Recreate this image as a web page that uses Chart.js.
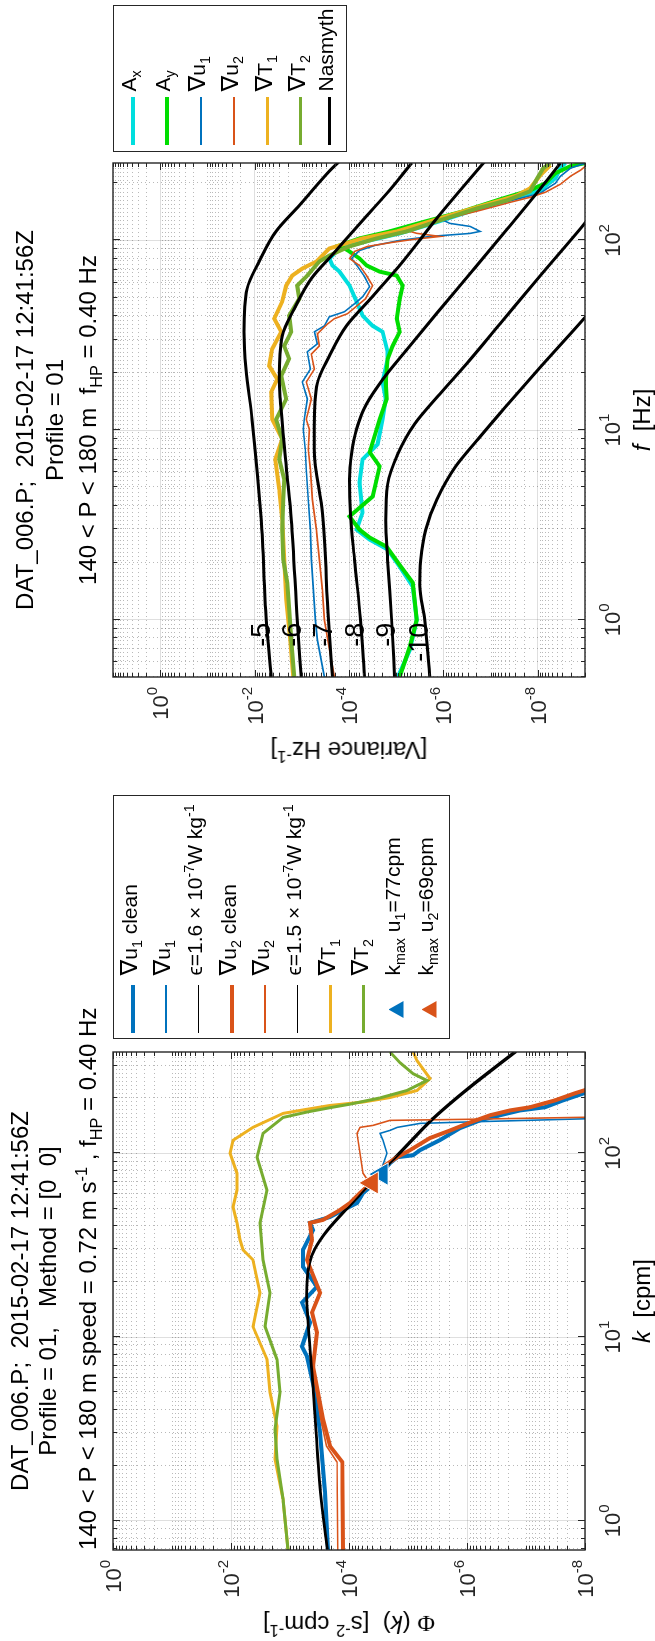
<!DOCTYPE html>
<html>
<head>
<meta charset="utf-8">
<script src="https://cdn.jsdelivr.net/npm/chart.js@4.4.1/dist/chart.umd.min.js"></script>
<style>
  html, body { margin: 0; padding: 0; background: #fff; overflow: hidden; }
  body { width: 655px; height: 1641px; position: relative; }
  /* figure is laid out in landscape and turned a quarter turn */
  #fig { position: absolute; left: 0; top: 0; width: 1641px; height: 655px;
         transform-origin: 0 0; transform: translate(0, 1641px) rotate(-90deg);
         font-family: "Liberation Sans", Arial, Helvetica, sans-serif; color: #000; }
  #fig canvas { position: absolute; top: 0; }
  .t { position: absolute; white-space: nowrap; text-align: center; font-size: 24px; line-height: 24px; }
  .rot { position: absolute; white-space: nowrap; font-size: 24px; line-height: 24px;
         transform: translate(-50%, -50%) rotate(-90deg); }
  .lg { position: absolute; border: 1.5px solid #262626; background: #fff; box-sizing: border-box; }
  .smp { position: absolute; }
  .tri { position: absolute; width: 17px; height: 15px; clip-path: polygon(50% 0, 100% 100%, 0 100%); }
  .lbl { position: absolute; font-size: 21px; line-height: 20px; white-space: nowrap; }
  .nab { font-family: "DejaVu Sans", sans-serif; font-size: 112%; }
  sub, sup { font-size: 68%; line-height: 0; }
  .serif { font-family: "Liberation Serif", "DejaVu Serif", serif; }
</style>
</head>
<body>
<div id="fig">
  <canvas id="leftChart" width="900" height="655" style="left:0"></canvas>
  <canvas id="rightChart" width="741" height="655" style="left:900px"></canvas>

  <div class="t" style="left:91px;width:498px;top:8px">DAT_006.P;&nbsp; 2015-02-17 12:41:56Z</div>
  <div class="t" style="left:91px;width:498px;top:36px">Profile = 01,&nbsp;&nbsp; Method = [0&nbsp; 0]</div>
  <div class="t" style="left:91px;width:498px;top:76px">140 &lt; P &lt; 180 m speed = 0.72 m s<sup>-1</sup> , f<sub>HP</sub> = 0.40 Hz</div>

  <div class="t" style="left:964px;width:514px;top:13px">DAT_006.P;&nbsp; 2015-02-17 12:41:56Z</div>
  <div class="t" style="left:964px;width:514px;top:43px">Profile = 01</div>
  <div class="t" style="left:964px;width:514px;top:76px">140 &lt; P &lt; 180 m&nbsp; f<sub>HP</sub> = 0.40 Hz</div>

  <div class="t" style="left:91px;width:498px;top:630px"><i>k</i>&nbsp; [cpm]</div>
  <div class="t" style="left:964px;width:514px;top:630px"><i>f</i>&nbsp; [Hz]</div>
  <div class="rot" style="left:17px;top:349px"><span class="serif">&Phi;</span> (<i>k</i>)&nbsp; [s<sup>-2</sup> cpm<sup>-1</sup>]</div>
  <div class="rot" style="left:891px;top:349px">[Variance Hz<sup>-1</sup>]</div>
</div>

<script>
const BLUE = '#0072bd', ORANGE = '#d95319', YELLOW = '#edb120', OLIVE = '#77ac30';
const CYAN = '#00dede', GREEN = '#00dd00', BLACK = '#000000';

/* ---------- wavenumber panel (shear, cpm) ---------- */
const kLimits = [0.694, 355.6];
const kTicks = [1, 10, 100];
const phiTicks = [1e-8, 1e-6, 1e-4, 1e-2, 1];

const shear1Clean = [[0.694,2.27e-4],[1.436,2.55e-4],[3.04,3.1e-4],[5.0,3.77e-4],[7.84,5.15e-4],[8.88,6.26e-4],[12,4.58e-4],[15.4,6.26e-4],[18.8,3.49e-4],[24.1,6.02e-4],[29.8,6.02e-4],[38.2,4.07e-4],[41.8,4.58e-4],[45,2.1e-4],[49.1,1.26e-4],[53.6,7.31e-5],[60.7,5.79e-5],[65.4,4.41e-5],[77,2.9e-5],[88.3,2.02e-5],[95.1,1.53e-5],[97.5,8.23e-6],[104,6.26e-6],[118,2.87e-6],[137,1.31e-6],[151,6.02e-7],[161,2.76e-7],[171,1.26e-7],[178,4.76e-8],[194,2.36e-8],[213,1e-8],[225,5.57e-9]];
const shear1Raw = [[0.694,2.36e-4],[1.436,2.65e-4],[3.04,3.2e-4],[5.0,3.85e-4],[7.84,5.2e-4],[8.88,6.3e-4],[12,4.65e-4],[15.4,6.3e-4],[18.8,3.6e-4],[24.1,6.1e-4],[29.8,6.1e-4],[38.2,4.1e-4],[41.8,4.6e-4],[45,2.15e-4],[49.1,1.3e-4],[53.6,7.5e-5],[60.7,6e-5],[65.4,4.6e-5],[77.9,2.98e-5],[100,2.27e-5],[117.6,2.65e-5],[128.3,2.98e-5],[133.2,2.02e-5],[138.3,1.53e-5],[145.4,6.26e-6],[148,1e-6],[154,1e-8],[156,3e-9]];
const epsFit1 = [[0.7,2.36e-4],[1.44,3.1e-4],[5,4.07e-4],[11.4,4.95e-4],[17,5.3e-4],[25,4.8e-4],[30,3.9e-4],[38,2.4e-4],[55,8.5e-5],[77,3.3e-5],[100,1.45e-5],[151,4.2e-6],[228,9.5e-7],[356,1.6e-7]];
const shear2Clean = [[0.694,1.26e-4],[2.09,1.3e-4],[2.55,2.1e-4],[3.57,2.76e-4],[6.92,4.07e-4],[10.6,3.49e-4],[13.6,4.24e-4],[17.4,3.1e-4],[26.3,5.15e-4],[33.8,4.24e-4],[41.8,4.58e-4],[43.4,2.76e-4],[49.1,1.42e-4],[53.6,9.62e-5],[60.7,6.51e-5],[69,4.2e-5],[86.1,2.45e-5],[95.1,1.53e-5],[104,9.25e-6],[121,4.24e-6],[133,1.94e-6],[147,8.89e-7],[161,4.07e-7],[171,1.87e-7],[178,8.55e-8],[194,3.22e-8],[212,1.48e-8],[225,8.23e-9]];
const shear2Raw = [[0.694,1.55e-4],[2.09,1.6e-4],[2.55,2.4e-4],[3.57,3.0e-4],[6.92,4.2e-4],[10.6,3.6e-4],[13.6,4.35e-4],[17.4,3.2e-4],[26.3,5.2e-4],[33.8,4.3e-4],[41.8,4.6e-4],[43.4,2.8e-4],[49.1,1.45e-4],[53.6,9.8e-5],[60.7,6.6e-5],[69,4.5e-5],[77.9,5.79e-5],[100,6.51e-5],[128.3,7.31e-5],[138.3,6.51e-5],[141.8,3.92e-5],[151,2.02e-5],[153,1e-6],[157,1e-8],[158,3e-9]];
const epsFit2 = [[0.7,2.3e-4],[1.44,3.0e-4],[5,3.95e-4],[11.4,4.8e-4],[17,5.15e-4],[25,4.6e-4],[30,3.75e-4],[38,2.28e-4],[55,8.0e-5],[77,3.1e-5],[100,1.35e-5],[151,3.9e-6],[228,8.7e-7],[356,1.45e-7]];
const tempK1 = [[0.694,1.08e-3],[1.316,1.31e-3],[2.168,1.8e-3],[3.273,1.66e-3],[5.0,2.18e-3],[7.55,2.45e-3],[11.4,4.24e-3],[17.4,3.22e-3],[26.3,4.24e-3],[29.8,6.26e-3],[33.8,7.04e-3],[41.8,7.91e-3],[51,9.25e-3],[63,7.91e-3],[77.9,7.91e-3],[100,1.04e-2],[117.6,9.25e-3],[138.3,4.24e-3],[164.8,1.31e-3],[171,6.77e-4],[182,2.1e-4],[190,5.79e-5],[201,2.02e-5],[219.5,7.04e-6],[255,4.24e-6],[319,7.04e-6],[356,8.23e-6]];
const tempK2 = [[0.694,1.08e-3],[1.316,1.31e-3],[2.168,1.66e-3],[3.152,1.8e-3],[5.0,1.48e-3],[7.55,1.66e-3],[11.4,2.65e-3],[17.4,2.18e-3],[26.3,2.87e-3],[41.8,3.22e-3],[63,2.45e-3],[95.1,3.62e-3],[128.3,2.87e-3],[156.7,1.31e-3],[168,5e-4],[177,2.1e-4],[185,9.6e-5],[200,3.0e-5],[219.5,1.04e-5],[248.7,4.76e-6],[271,8.23e-6],[311,1.37e-5],[356,2.02e-5]];
const kmaxU1 = [[77, 2.8e-5]];
const kmaxU2 = [[69, 4.1e-5]];

/* ---------- frequency panel (Hz) ---------- */
const fLimits = [0.5, 256];
const fTicks = [1, 10, 100];
const varTicks = [1e-8, 1e-6, 1e-4, 1e-2, 1];

const accelX = [[0.5,9.29e-6],[0.694,5.16e-6],[1,3.66e-6],[1.5,4.46e-6],[1.91,8.43e-6],[2.35,1.52e-5],[2.65,3.66e-5],[2.99,6.92e-5],[3.68,5.16e-5],[5.31,5.98e-5],[7.02,5.16e-5],[8.43,2.48e-5],[11.4,1.94e-5],[14.6,1.67e-5],[17.95,1.94e-5],[23.75,1.52e-5],[25.9,1.52e-5],[33,1.94e-5],[35.5,3.16e-5],[40.1,5.16e-5],[43.7,5.98e-5],[57.8,9.75e-5],[68.5,1.59e-4],[73.8,2.24e-4],[80.3,2.6e-4],[90.7,1.59e-4],[100,3.66e-5],[108.9,8.43e-6],[121.6,1.94e-6],[142.4,2.73e-7],[164.8,3.85e-8],[183.9,8.85e-9],[212.8,4.25e-9],[240.4,3.32e-9],[256,2.6e-9]];
const accelY = [[0.5,8.43e-6],[0.72,5.16e-6],[1,3.66e-6],[1.57,4.46e-6],[1.95,8.43e-6],[2.43,1.59e-5],[2.72,3.66e-5],[2.99,5.98e-5],[3.51,9.75e-5],[4.47,3.16e-5],[6.45,2.24e-5],[7.65,3.66e-5],[10.1,2.6e-5],[11.4,2.24e-5],[14.6,1.59e-5],[17.95,1.67e-5],[23.75,1.52e-5],[27.8,1.19e-5],[33,8.43e-6],[38.7,9.75e-6],[49.3,8.43e-6],[57.8,7.28e-6],[65.3,9.75e-6],[68.5,2.24e-5],[73.8,4.25e-5],[80.3,5.98e-5],[87.5,9.75e-5],[94.1,1.59e-4],[102.5,5.98e-5],[111.6,1.38e-5],[124.5,2.86e-6],[142.4,3.85e-7],[164.8,6.28e-8],[183.9,1.45e-8],[200.3,6.92e-9],[226.2,4.25e-9],[246.3,2.04e-9],[256,9.75e-10]];
const shearF1 = [[0.5,3.32e-4],[0.784,4.68e-4],[1,5.16e-4],[1.44,5.69e-4],[2.08,6.28e-4],[2.99,6.59e-4],[4.31,7.28e-4],[6.22,8.02e-4],[7.93,8.43e-4],[10.1,9.29e-4],[11.4,8.85e-4],[14.6,7.64e-4],[17.95,9.75e-4],[21,6.59e-4],[25.9,7.64e-4],[28.5,4.68e-4],[33,5.42e-4],[35.5,3.32e-4],[39.6,2.6e-4],[42.1,1.25e-4],[46.4,7.64e-5],[50.5,5.16e-5],[57.1,3.66e-5],[64.5,4.68e-5],[72.9,6.59e-5],[80.3,8.85e-5],[88.5,5.98e-5],[94.1,2.86e-5],[100,8.43e-6],[105,1.94e-6],[108.9,2.73e-7],[111.6,1.67e-7],[118.6,2.73e-7],[123,7.28e-7],[127.6,1.0e-6],[142.4,2.73e-7],[157,6.28e-8],[166.8,2.36e-8],[177.3,8.85e-9],[188.4,6.28e-9],[200.3,4.25e-9],[218,3.32e-9],[240.4,2.04e-9],[256,9.75e-10]];
const shearF2 = [[0.5,2.04e-4],[0.694,2.6e-4],[1,3.32e-4],[1.44,3.66e-4],[2.08,4.25e-4],[2.99,4.91e-4],[4.31,5.98e-4],[6.22,6.59e-4],[7.93,7.28e-4],[10.1,6.92e-4],[11.4,8.02e-4],[14.6,6.28e-4],[17.95,8.02e-4],[21,5.42e-4],[25.2,6.28e-4],[27.8,4.25e-4],[32.2,4.68e-4],[36.3,2.86e-4],[38.7,2.04e-4],[41.1,1.08e-4],[45,6.92e-5],[49.3,4.46e-5],[57.8,3.16e-5],[65.3,4.25e-5],[73.8,5.98e-5],[80.3,9.75e-5],[87.5,7.64e-5],[93,4.04e-5],[97.6,1.25e-5],[101.2,4.46e-6],[105,1.19e-6],[109,3.66e-6],[113,6.0e-6],[127.6,1.19e-6],[144.1,1.67e-7],[158.9,3.85e-8],[168.9,1.45e-8],[179.5,6.92e-9],[197.8,3.32e-9],[218,2.04e-9],[234.6,1.25e-9],[256,8.0e-10]];
const tempF1 = [[0.5,1.52e-3],[0.784,1.76e-3],[1.28,2.14e-3],[2.08,2.36e-3],[3.38,2.6e-3],[4.87,3.01e-3],[7.02,3.66e-3],[8.96,2.6e-3],[11.4,4.25e-3],[15.9,4.46e-3],[18.6,3.32e-3],[21.8,4.91e-3],[26.8,4.25e-3],[33,2.73e-3],[38.7,3.85e-3],[47.6,2.6e-3],[57.8,2.14e-3],[65.3,1.59e-3],[71.1,9.75e-4],[77.4,4.91e-4],[90.7,2.6e-4],[102.5,5.16e-5],[111.6,9.75e-6],[126,1.94e-6],[142.4,3.85e-7],[160.8,7.28e-8],[173,2.73e-8],[188.4,1.45e-8],[220.8,8.85e-9],[249.3,5.42e-9]];
const tempF2 = [[0.5,1.44e-3],[0.784,1.67e-3],[1.13,1.85e-3],[1.57,2.04e-3],[2.08,2.48e-3],[2.99,2.6e-3],[4.31,2.48e-3],[5.5,2.36e-3],[7.02,3.01e-3],[8.96,2.6e-3],[11.4,3.49e-3],[14.6,2.14e-3],[19.3,2.73e-3],[23.8,1.85e-3],[27.8,2.36e-3],[33,1.67e-3],[40.1,1.85e-3],[49.3,1.13e-3],[57.8,1.25e-3],[65.3,7.64e-4],[77.4,4.25e-4],[83.3,2.6e-4],[93,9.75e-5],[102.5,2.6e-5],[111.6,5.98e-6],[127.6,1.19e-6],[147.7,1.94e-7],[162.8,4.46e-8],[181.7,1.45e-8],[212.8,1.03e-8],[240.4,7.64e-9],[256,5.42e-9]];

// Nasmyth reference spectra, dissipation 1e-5 ... 1e-10 W/kg
const nasmyth5 = [[0.5,4.46e-3],[1,5.69e-3],[3.38,7.27e-3],[11.4,1.13e-2],[21,1.52e-2],[33,1.67e-2],[55.7,1.44e-2],[77.4,8.0e-3],[112,3.49e-3],[153,1.13e-3],[232,2.6e-4],[262,1.59e-4]];
const nasmyth6 = [[0.5,1.03e-3],[1,1.25e-3],[3.38,1.67e-3],[6.45,2.14e-3],[14.6,2.87e-3],[18.6,3.01e-3],[31.4,2.6e-3],[43.7,1.44e-3],[62.9,6.28e-4],[86.4,2.04e-4],[131,4.68e-5],[184,1.38e-5],[256,4.68e-6],[288,3.16e-6]];
const nasmyth7 = [[0.5,2.24e-4],[1,2.73e-4],[3.64,3.66e-4],[7.93,5.42e-4],[10.5,5.42e-4],[17.7,4.68e-4],[24.6,2.6e-4],[35.5,1.13e-4],[48.7,3.66e-5],[73.8,8.43e-6],[137,1.19e-6],[262,1.31e-7]];
const nasmyth8 = [[0.5,4.68e-5],[1,5.69e-5],[2.08,7.64e-5],[3.59,9.29e-5],[5.51,9.75e-5],[7.46,8.85e-5],[10.1,6.92e-5],[13.7,4.3e-5],[18.6,1.9e-5],[26.8,5.8e-6],[41.6,1.35e-6],[69.4,2.4e-7],[116,4.3e-8],[195,7.8e-9],[256,3.3e-9]];
const nasmyth9 = [[0.5,1.08e-5],[1,1.25e-5],[2.08,1.52e-5],[3.34,1.67e-5],[5.18,1.52e-5],[7.46,9.29e-6],[10.8,4.04e-6],[15.5,1.19e-6],[23.5,2.73e-7],[36.4,6.28e-8],[65.3,8.85e-9],[124.5,9.75e-10],[157,4.68e-10]];
const nasmyth10 = [[0.5,1.94e-6],[1,2.48e-6],[1.53,3.16e-6],[2.08,3.01e-6],[2.99,2.36e-6],[4.31,1.38e-6],[6.37,5.69e-7],[8.96,1.85e-7],[13.2,4.91e-8],[21.5,8.85e-9],[39.6,9.75e-10],[49.3,4.68e-10]];
const nasmythSets = [nasmyth5, nasmyth6, nasmyth7, nasmyth8, nasmyth9, nasmyth10];
const nasmythTags = ['-5', '-6', '-7', '-8', '-9', '-10'];

/* ---------- helpers ---------- */
const FONT = '"Liberation Sans", Arial, Helvetica, sans-serif';

function series(label, pts, color, width, extra) {
  return Object.assign({
    label, data: pts.map(([x, y]) => ({x, y})),
    borderColor: color, backgroundColor: color, borderWidth: width,
    pointRadius: 0, fill: false, tension: 0, clip: 0
  }, extra || {});
}
const smooth = {cubicInterpolationMode: 'monotone'};

function logAxis(lim, ticks, size, isX) {
  return {
    type: 'logarithmic', min: lim[0], max: lim[1],
    afterBuildTicks: s => { s.ticks = ticks.map(v => ({value: v})); },
    afterFit: s => { if (isX) s.height = size; else s.width = size; },
    ticks: {display: false},
    grid: {color: 'rgba(38,38,38,0.15)', lineWidth: 1, drawTicks: false},
    border: {display: false}
  };
}

function minorValues(scale) {
  const majors = scale.ticks.map(t => t.value);
  const out = [];
  for (let e = Math.floor(Math.log10(scale.min)); e <= Math.ceil(Math.log10(scale.max)); e++) {
    for (let m = 1; m <= 9; m++) {
      const v = m * Math.pow(10, e);
      if (v < scale.min * 0.999 || v > scale.max * 1.001) continue;
      if (majors.some(M => Math.abs(M - v) / v < 1e-6)) continue;
      out.push(v);
    }
  }
  return out;
}

function powLabel(ctx, v, x, base, align) {
  const ex = String(Math.round(Math.log10(v)));
  ctx.font = '22px ' + FONT;
  const wb = ctx.measureText('10').width;
  ctx.font = '15px ' + FONT;
  const we = ctx.measureText(ex).width;
  const x0 = align === 'center' ? x - (wb + we) / 2 : x - (wb + we);
  ctx.textAlign = 'left';
  ctx.textBaseline = 'alphabetic';
  ctx.font = '22px ' + FONT;
  ctx.fillText('10', x0, base);
  ctx.font = '15px ' + FONT;
  ctx.fillText(ex, x0 + wb, base - 11);
}

// dotted minor grid, boxed frame with inward ticks, power-of-ten tick labels
const matlabAxes = {
  id: 'matlabAxes',
  beforeDatasetsDraw(chart) {
    const {ctx, chartArea: a, scales: {x, y}} = chart;
    ctx.save();
    ctx.strokeStyle = 'rgba(38,38,38,0.32)';
    ctx.lineWidth = 1;
    ctx.setLineDash([1, 3]);
    ctx.beginPath();
    minorValues(x).forEach(v => {
      const p = Math.round(x.getPixelForValue(v)) + 0.5;
      ctx.moveTo(p, a.top); ctx.lineTo(p, a.bottom);
    });
    minorValues(y).forEach(v => {
      const p = Math.round(y.getPixelForValue(v)) + 0.5;
      ctx.moveTo(a.left, p); ctx.lineTo(a.right, p);
    });
    ctx.stroke();
    ctx.restore();
  },
  afterDatasetsDraw(chart) {
    const {ctx, chartArea: a, scales: {x, y}} = chart;
    ctx.save();
    ctx.strokeStyle = '#262626';
    ctx.lineWidth = 1;
    ctx.beginPath();
    const mark = (scale, vals, len, horiz) => vals.forEach(v => {
      const p = Math.round(scale.getPixelForValue(v)) + 0.5;
      if (horiz) {
        ctx.moveTo(p, a.bottom); ctx.lineTo(p, a.bottom - len);
        ctx.moveTo(p, a.top); ctx.lineTo(p, a.top + len);
      } else {
        ctx.moveTo(a.left, p); ctx.lineTo(a.left + len, p);
        ctx.moveTo(a.right, p); ctx.lineTo(a.right - len, p);
      }
    });
    mark(x, x.ticks.map(t => t.value), 7, true);
    mark(x, minorValues(x), 4, true);
    mark(y, y.ticks.map(t => t.value), 7, false);
    mark(y, minorValues(y), 4, false);
    ctx.stroke();
    ctx.lineWidth = 1.4;
    ctx.strokeRect(a.left, a.top, a.right - a.left, a.bottom - a.top);
    ctx.fillStyle = '#262626';
    x.ticks.forEach(t => powLabel(ctx, t.value, x.getPixelForValue(t.value), a.bottom + 35, 'center'));
    y.ticks.forEach(t => powLabel(ctx, t.value, a.left - 10, y.getPixelForValue(t.value) + 8, 'right'));
    ctx.restore();
  }
};

// exponent tags next to the Nasmyth curves, just left of 1 Hz
const nasmythTagPlugin = {
  id: 'nasmythTags',
  afterDatasetsDraw(chart) {
    const {ctx, scales: {x, y}} = chart;
    ctx.save();
    ctx.font = '27px ' + FONT;
    ctx.fillStyle = '#000';
    ctx.textAlign = 'right';
    ctx.textBaseline = 'middle';
    const px = x.getPixelForValue(0.965);
    nasmythSets.forEach((set, i) => {
      ctx.fillText(nasmythTags[i], px, y.getPixelForValue(set[1][1]) - 4);
    });
    ctx.restore();
  }
};

function stack(sets) { sets.forEach((d, i) => { d.order = -i; }); return sets; }

/* ---------- left: wavenumber spectra ---------- */
const leftSets = stack([
  series('∇u1 clean', shear1Clean, BLUE, 4),
  series('∇u1', shear1Raw, BLUE, 1.6),
  series('eps 1.6e-7', epsFit1, BLACK, 2, smooth),
  series('∇u2 clean', shear2Clean, ORANGE, 4),
  series('∇u2', shear2Raw, ORANGE, 1.6),
  series('eps 1.5e-7', epsFit2, BLACK, 2, smooth),
  series('∇T1', tempK1, YELLOW, 3),
  series('∇T2', tempK2, OLIVE, 3),
  series('kmax u1', kmaxU1, BLUE, 1, {showLine: false, pointStyle: 'triangle', pointRadius: 13, borderColor: '#fff'}),
  series('kmax u2', kmaxU2, ORANGE, 1, {showLine: false, pointStyle: 'triangle', pointRadius: 13, borderColor: '#fff'})
]);

new Chart(document.getElementById('leftChart'), {
  type: 'line',
  data: {datasets: leftSets},
  options: {
    responsive: false, animation: false, devicePixelRatio: 1, events: [],
    layout: {padding: {left: 0, right: 311, top: 113, bottom: 0}},
    plugins: {legend: {display: false}, tooltip: {enabled: false}},
    scales: {x: logAxis(kLimits, kTicks, 70, true), y: logAxis([1e-8, 1], phiTicks, 91, false)}
  },
  plugins: [matlabAxes]
});

/* ---------- right: frequency spectra ---------- */
const rightSets = stack([
  series('Ax', accelX, CYAN, 4),
  series('Ay', accelY, GREEN, 4),
  series('∇u1', shearF1, BLUE, 1.6),
  series('∇u2', shearF2, ORANGE, 1.6),
  series('∇T1', tempF1, YELLOW, 4),
  series('∇T2', tempF2, OLIVE, 4),
  ...nasmythSets.map((s, i) => series('Nasmyth ' + nasmythTags[i], s, BLACK, 3, smooth))
]);

new Chart(document.getElementById('rightChart'), {
  type: 'line',
  data: {datasets: rightSets},
  options: {
    responsive: false, animation: false, devicePixelRatio: 1, events: [],
    layout: {padding: {left: 0, right: 163, top: 113, bottom: 0}},
    plugins: {legend: {display: false}, tooltip: {enabled: false}},
    scales: {x: logAxis(fLimits, fTicks, 70, true), y: logAxis([1e-9, 10], varTicks, 64, false)}
  },
  plugins: [matlabAxes, nasmythTagPlugin]
});

/* ---------- legends ---------- */
const NAB = '<span class="nab">∇</span>';
const leftLegend = [
  {html: NAB + 'u<sub>1</sub> clean', color: BLUE, lw: 4},
  {html: NAB + 'u<sub>1</sub>', color: BLUE, lw: 2},
  {html: 'ϵ=1.6 × 10<sup>-7</sup>W kg<sup>-1</sup>', color: BLACK, lw: 1.5},
  {html: NAB + 'u<sub>2</sub> clean', color: ORANGE, lw: 4},
  {html: NAB + 'u<sub>2</sub>', color: ORANGE, lw: 2},
  {html: 'ϵ=1.5 × 10<sup>-7</sup>W kg<sup>-1</sup>', color: BLACK, lw: 1.5},
  {html: NAB + 'T<sub>1</sub>', color: YELLOW, lw: 3},
  {html: NAB + 'T<sub>2</sub>', color: OLIVE, lw: 3},
  {html: 'k<sub>max</sub> u<sub>1</sub>=77cpm', color: BLUE, marker: true},
  {html: 'k<sub>max</sub> u<sub>2</sub>=69cpm', color: ORANGE, marker: true}
];
const rightLegend = [
  {html: 'A<sub>x</sub>', color: CYAN, lw: 4},
  {html: 'A<sub>y</sub>', color: GREEN, lw: 4},
  {html: NAB + 'u<sub>1</sub>', color: BLUE, lw: 2},
  {html: NAB + 'u<sub>2</sub>', color: ORANGE, lw: 2},
  {html: NAB + 'T<sub>1</sub>', color: YELLOW, lw: 3},
  {html: NAB + 'T<sub>2</sub>', color: OLIVE, lw: 3},
  {html: 'Nasmyth', color: BLACK, lw: 3}
];

function buildLegend(pos, entries, rows, sampleLeft, textLeft) {
  const fig = document.getElementById('fig');
  const box = document.createElement('div');
  box.className = 'lg';
  Object.assign(box.style, pos);
  entries.forEach((e, i) => {
    const c = rows[i];
    if (e.marker) {
      const m = document.createElement('div');
      m.className = 'tri';
      m.style.background = e.color;
      m.style.left = (sampleLeft + 24 - 8.5) + 'px';
      m.style.top = (c - 8) + 'px';
      box.appendChild(m);
    } else {
      const s = document.createElement('div');
      s.className = 'smp';
      s.style.background = e.color;
      s.style.left = sampleLeft + 'px';
      s.style.width = '48px';
      s.style.height = e.lw + 'px';
      s.style.top = (c - e.lw / 2) + 'px';
      box.appendChild(s);
    }
    const t = document.createElement('div');
    t.className = 'lbl';
    t.innerHTML = e.html;
    t.style.left = textLeft + 'px';
    t.style.top = (c - 14) + 'px';
    box.appendChild(t);
  });
  fig.appendChild(box);
}

buildLegend({left: '602px', top: '113px', width: '244px', height: '337px'},
  leftLegend, [18.5, 51.5, 84.5, 117.5, 150.5, 183.5, 216.5, 249.5, 282.5, 315.5], 4.5, 62.5);
buildLegend({left: '1489px', top: '113px', width: '147px', height: '234px'},
  rightLegend, [18.5, 52.5, 86.5, 119.5, 153.5, 186.5, 215.5], 5.5, 59.5);
</script>
</body>
</html>
